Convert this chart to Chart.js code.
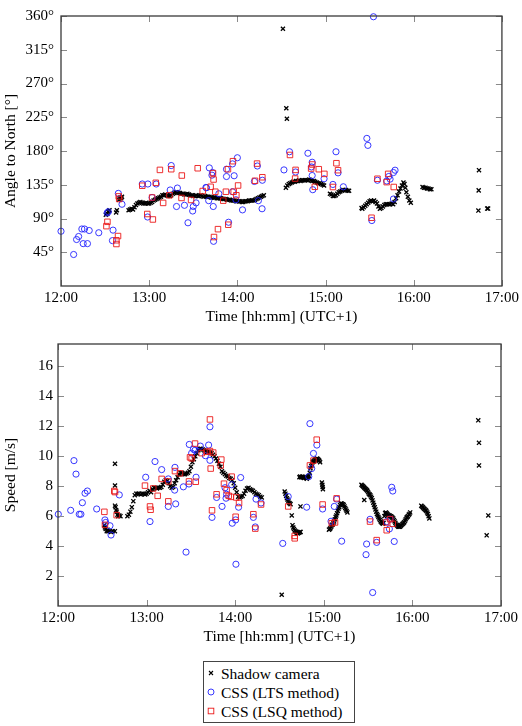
<!DOCTYPE html>
<html>
<head>
<meta charset="utf-8">
<script src="https://cdn.jsdelivr.net/npm/chart.js@4.4.1/dist/chart.umd.min.js"></script>
<style>
html,body{margin:0;padding:0;background:#fff;}
body{width:522px;height:726px;position:relative;overflow:hidden;font-family:"Liberation Serif",serif;}
#c1{position:absolute;left:0;top:0;}
#c2{position:absolute;left:0;top:330px;}
#legend{position:absolute;left:203px;top:661px;width:152px;height:62px;border:1px solid #444;box-sizing:border-box;background:#fff;}
.row{position:absolute;left:0;height:19px;line-height:19px;font-size:15.5px;color:#000;white-space:nowrap;}
.row svg{position:absolute;left:2px;top:4px;}
.row span{position:absolute;left:17px;top:0;}
</style>
</head>
<body>
<canvas id="c1" width="522" height="330"></canvas>
<canvas id="c2" width="522" height="322"></canvas>
<div id="legend"></div>
<script>
// ---------- axes ----------
const timeTickValues = [0, 60, 120, 180, 240, 300];          // minutes after 12:00
const timeTickLabels = ['12:00', '13:00', '14:00', '15:00', '16:00', '17:00'];
const angleTicks = [45, 90, 135, 180, 225, 270, 315, 360];
const speedTicks = [2, 4, 6, 8, 10, 12, 14, 16];
const seriesNames = ['Shadow camera', 'CSS (LTS method)', 'CSS (LSQ method)'];

// ---------- Angle to North: shadow camera (time in minutes after 12:00) ----------
const camDirPreT = [30.5,31,31.5,32,32.5,33,37.5,38,39.5,40,40.5,41,41.5];
const camDirPreA = [95,97,96,99,100,101,98,101,115,117,118,117,119];
const camDirBT = [46,47,48,49,50,51,52,53,54,55,56,57,58,59,60,61,62,63,64,65,66,67,68,69,70,71,72,73,74,75,76,77,78,79,80,81,82,83,84,85,86,87,88,89,90,91,92,93,94,95,96,97,98,99,100,101,102,103,104,105,106,107,108,109,110,111,112,113,114,115,116,117,118,119,120,121,122,123,124,125,126,127,128,129,130,131,132,133,134,135,136,137,138];
const camDirBA = [101,102,103,102,105,108,110,111,112,111,110,110,111,110,110,111,112,114,115,116,117,118,119,121,121,122,121,120,120,121,123,124,125,125,124,124,123,123,122,122,123,122,121,121,120,120,121,120,120,121,120,119,120,119,119,119,118,118,118,118,117,117,117,117,116,116,116,115,115,115,114,114,114,113,113,113,113,112,112,113,113,113,114,114,114,114,115,116,117,118,119,120,121];
const camDirCT = [153,154,155,156,157,158,159,160,161,162,163,164,165,166,167,168,169,170,171,172,173,174,175,176,177,178,179];
const camDirCA = [131,134,136,137,138,139,139,140,140,141,140,141,141,141,141,141,142,141,140,140,139,138,137,137,136,135,134];
const camDirDT = [183,184,185,186,187,188,189,190,191,192,193,194,195,196];
const camDirDA = [123,122,120,120,121,123,125,126,127,128,128,128,127,127];
const camDirET = [204.5,205,206,207,208,209,210,211,212,213,214,215,216,217,218,219,220,221,222,223,224,225,226,227,228,229,230,231,232,233,233.7,234.3,235,236,237,238];
const camDirEA = [104,103,105,107,109,111,113,114,113,114,112,110,106,103,104,106,108,109,109,109,109,110,109,112,117,121,126,130,134,138,136,131,125,119,114,111];
const camDirFT = [246,247,248,249,250,251,252];
const camDirFA = [132,131,131,130,130,129,129];
const camDirOutT = [151,153.3,153.7,284,284.2,284.4,290,290.6];
const camDirOutA = [343,237,223,100.6,127.5,154.4,103.2,103.2];

// ---------- Angle to North: CSS LTS ----------
const ltsDirT = [0,8.6,10.6,12,14.2,16,15.1,18,19.2,25.7,35,35.4,31.4,32.2,39,41.5,55.3,59.1,58.9,62,64.8,74.3,75,78.6,79.2,84,86.4,89.6,90,91.9,98.6,99,100.5,100.9,102.7,103.1,103.6,103.8,107.4,112.6,112.6,114,116.7,116.7,117.8,119,120,123.5,131.6,133.6,134.3,136.8,137,151.7,155.5,159.6,168,170.4,170.9,170.9,171.3,179,185,187.1,188.5,192.1,208.1,208.8,211.5,212.6,215.3,221.6,223,223.9,226.2,226.2,227.3];
const ltsDirA = [73,42,62,66,76,76,56.5,56.5,74,71,60.5,74.5,97.5,99,123.5,109,136,136,92,118,136,128,160.6,106,130.6,107.6,84.3,100,106,110.8,131.4,131,113.8,157.5,147.8,151.3,106,59.6,123,146,155.7,85,162.8,125.7,147,115,171,101.5,139.4,160,113.8,103,141,154.8,179,152,177,158.8,165,147.3,128.4,143,135.4,179,150.9,132.3,196.8,187.5,87.3,359,141,140,146,142.5,151.3,116,154.4];

// ---------- Angle to North: CSS LSQ ----------
const lsqDirT = [30.9,31.6,37.7,38.8,37.7,39.3,39.6,55.3,58.7,62,62.5,64.5,67.3,69.5,75,73.8,82.2,82,88.5,93,96.4,101.8,103.4,103.8,104.1,106.8,105,110.4,112.2,113.6,113.8,117,117.5,120.5,119.3,132,133.4,137,155.8,159.6,159.3,170.2,171,172.7,175.4,179.2,185,187.4,188.5,211.3,215.3,221.6,222.6,226.4];
const lsqDirA = [79.8,85.6,61,66.6,56,119.5,116,133.7,96,118,88.7,137.6,154.8,110.8,155.7,121,147.3,117.4,114.7,157,126.6,132.3,150.5,142,65.3,75.8,125.7,113.8,125.7,155.7,81.7,166.4,125.7,134,121,140.3,163.2,145,174.7,154.8,143.3,156.6,162,132.3,155.7,149.5,132,163.7,154.4,91,143,138.5,149.5,132];

// ---------- Speed: shadow camera ----------
const camSpdPreT = [31.4,31.8,32.3,33,33.5,34,35,36,37,38.5,38.6,38.6,38.6,39,39.4,39.8,40.3,40.8,41.5,42.3];
const camSpdPreV = [5.4,5.25,5.15,5,5.1,5,5,4.95,5,5,9.5,8.05,6.7,6.6,6.4,6.3,6.1,6,6.05,6];
const camSpdBT = [47,48,49,50,51,52,53,54,55,56,57,58,59,60,61,62,63,64,65,66,67,68,69,70,71,72,73,74,75,76,77,78,79,80,81,82,83,84,85,86,87,88,89,90,91,92,93,94,95,96,97,98,99,100,101,102,103,104,105,106,107,108,109,110,111,112,113,114,115,116,117,118,119,120,121,122,123,124,125,126,127,128,129,130,131,132,133,134,135,136,137,138];
const camSpdBV = [6,6.1,6.3,6.6,7,7.4,7.5,7.5,7.5,7.45,7.5,7.5,7.45,7.5,7.6,7.7,7.6,7.8,7.9,7.9,7.85,7.9,7.9,7.95,8.1,8.3,8.4,8.35,8.2,8,7.9,7.95,8.2,8.4,8.6,8.8,8.9,8.9,8.8,8.8,8.85,8.9,9,9.3,9.6,9.8,10,10.2,10.4,10.5,10.5,10.45,10.4,10.35,10.3,10.3,10.25,10.2,10.1,10,9.85,9.7,9.5,9.3,9,8.9,8.8,8.7,8.65,8.55,8.5,8.4,8.2,7.9,7.6,7.3,7.25,7.3,7.35,7.5,7.7,7.85,7.9,7.8,7.75,7.7,7.6,7.5,7.45,7.4,7.3,7.25];
const camSpdCT = [153.5,154,154.5,155,155.5,156,156.5,157,157.5,158.8,159.3,159.8,160.3,160.8,161.3,161.8,162.3,162.8,163.3,163.8,164.3];
const camSpdCV = [7.65,7.5,7.35,7.2,7.1,7,6.9,6.85,6.8,5.4,5.25,5.15,5.05,5,4.95,4.9,4.85,4.9,4.9,4.95,4.95];
const camSpdDT = [163.5,164,164.5,165,165.5,166,166.5,167,167.5,168,168.5,169,169.5,170,170.5,171,171.5,172,172.5,173,173.5,174,174.5,175,175.5,176,176.5,177,177.5,178.7,179,179.2,179.4];
const camSpdDV = [8.6,8.65,8.6,8.6,8.65,8.6,8.55,8.6,8.6,8.55,8.5,8.6,8.65,8.7,8.9,9.2,9.35,9.45,9.6,9.65,9.7,9.75,9.8,9.8,9.85,9.8,9.75,9.7,9.6,8.25,8.1,7.95,7.8];
const camSpdET = [183.5,184,184.5,185,185.5,186,186.5,187,187.5,188,188.5,189,189.5,190,190.5,191,191.5,192,192.5,193,193.5,194,194.5,195,195.5,196];
const camSpdEV = [5.1,5.15,5.2,5.3,5.4,5.45,5.55,5.65,5.8,5.95,6.05,6.2,6.35,6.5,6.6,6.75,6.85,6.85,6.8,6.8,6.75,6.65,6.55,6.45,6.35,6.25];
const camSpdFT = [205.5,206,206.5,207,207.5,208,208.5,209,209.5,210,210.5,211,211.5,212,212.5,213,213.5,214,214.5,215,215.5,216,216.5,217,217.5,218,218.5,219,219.5,220,220.5,221,221.5,222,222.5,223,223.5,224,224.5,225,225.5,226,226.5,227,227.5,228,228.5,229,229.5,230,230.5,231,231.5,232,232.5,233,233.5,234,234.5,235,235.5,236,236.5,237,237.5,238,238.5];
const camSpdFV = [8.1,8.05,8,7.95,7.9,7.85,7.8,7.75,7.7,7.6,7.5,7.45,7.4,7.3,7.2,7.05,6.9,6.75,6.6,6.45,6.3,6.15,6.05,5.95,5.85,5.75,5.65,5.6,5.55,5.5,5.55,6,6.2,6.25,6.2,6.15,6.1,6.05,6.05,6,6,5.95,5.9,5.85,5.75,5.65,5.55,5.45,5.4,5.35,5.3,5.3,5.3,5.35,5.4,5.45,5.5,5.55,5.6,5.7,5.8,5.9,5.95,6,6.1,6.15,6.25];
const camSpdGT = [246,246.5,247,247.5,248,248.5,249,249.5,250,250.5,251,251.5];
const camSpdGV = [6.7,6.65,6.6,6.55,6.5,6.45,6.4,6.35,6.25,6.15,6,5.85];
const camSpdOutT = [151.5,158.3,164.2,207.4,284.6,285.1,285.1,291.4,290.3];
const camSpdOutV = [0.75,6.05,6.65,7.08,12.4,10.9,9.39,6.05,4.72];

// ---------- Speed: CSS LTS ----------
const ltsSpdT = [0.2,8.6,10.8,12.2,14.4,15.5,16.5,18.3,19.9,26.2,31.8,32.3,35.2,35.9,41.5,59.4,62.3,65.7,70.2,74.7,74.7,79,79.2,79.7,84.9,86.7,88.7,88.9,90.5,91.7,92.8,93.5,96.4,99.8,102,102.9,102.9,104.3,107.4,111.1,113.1,113.8,114.2,117.6,118,120.3,120.5,122.3,123.7,132.3,133.6,134.1,137.5,152.2,155.9,168.4,169.8,170.6,171.8,173,175.3,179.2,184.9,187.1,188.7,192.1,208.6,209,211.3,213.1,215.8,222.6,224.4,224.9,226,226.7,227.7];
const ltsSpdV = [6.13,6.39,9.71,8.81,6.13,6.13,6.9,7.53,7.68,6.48,5.75,5.58,5.36,4.74,7.42,8.6,5.64,9.65,9.11,6.65,8.49,7.74,9.26,6.82,7.96,3.6,8.15,10.79,10.21,10.47,10.4,8.6,10.68,10.04,10.75,11.97,9.73,5.92,7.25,6.65,7.9,7.2,7.46,8.1,5.53,5.75,2.79,6.6,8.58,5.92,5.28,7.14,6.88,4.18,7.31,6.6,8.64,12.18,9.18,10.19,10.75,6.48,5.66,6.65,7.14,4.33,3.43,4.14,5.79,0.9,4.25,5.64,5.15,5.8,7.93,7.68,4.31];

// ---------- Speed: CSS LSQ ----------
const lsqSpdT = [31.4,31.8,38.1,38.6,39.7,58.9,62.3,62.7,64.5,67.5,70.2,74.7,74.7,79.2,82.6,88.7,89.4,90.5,92.8,93.3,97.3,100.6,102.9,105.1,102.9,103.4,104.3,107.4,110.2,110.6,112.4,114.2,115.6,117.1,117.6,120.3,120.7,122.6,132.3,133.6,137.5,155.9,160.3,160.3,170.6,173,175.2,179.2,185.4,187.6,188.7,211.3,215.8,222.2,222.6,226.7,224.9];
const lsqSpdV = [6.29,5.42,7.68,7.61,6.07,8.04,6.65,6.43,7.85,7.36,8.49,8.32,6.99,9.01,8.86,8.32,9.93,9.86,10.85,8.3,10.21,10.3,10.35,10.25,12.46,9.18,6.39,7.46,9.39,9.78,8.17,7.74,7.36,7.29,8.64,5.96,7.25,6.88,6.13,5.17,6.78,6.65,4.52,4.68,9.39,9.71,11.11,6.78,5.53,5.58,7.19,5.64,4.4,5.58,5.06,5.49,5.8];

// ---------- helpers ----------
function pts(ts, vs) { return ts.map((t, i) => ({ x: t, y: vs[i] })); }
const FONT = '"Liberation Serif", "Times New Roman", serif';
const COL_CAM = '#000000', COL_LTS = 'rgb(35,35,255)', COL_LSQ = 'rgb(235,25,25)';

function camSet(data) {
  return { label: seriesNames[0], data, pointStyle: 'crossRot', pointRadius: 2.9, pointBorderWidth: 1.3,
           borderColor: COL_CAM, backgroundColor: COL_CAM, showLine: false, clip: false, order: 3 };
}
function ltsSet(data) {
  return { label: seriesNames[1], data, pointStyle: 'circle', pointRadius: 3.1, pointBorderWidth: 0.9,
           borderColor: COL_LTS, backgroundColor: 'rgba(0,0,0,0)', showLine: false, clip: false, order: 2 };
}
function lsqSet(data) {
  return { label: seriesNames[2], data, pointStyle: 'rect', pointRadius: 3.9, pointBorderWidth: 0.9,
           borderColor: COL_LSQ, backgroundColor: 'rgba(0,0,0,0)', showLine: false, clip: false, order: 1 };
}

const framePlugin = {
  id: 'frame',
  afterDatasetsDraw(chart) {
    const { ctx, chartArea: a, scales } = chart;
    ctx.save();
    ctx.strokeStyle = '#8a8a8a';
    ctx.lineWidth = 1;
    const L = 6;
    scales.x.ticks.forEach(t => {
      const px = Math.round(scales.x.getPixelForValue(t.value)) + 0.5;
      ctx.beginPath();
      ctx.moveTo(px, a.bottom); ctx.lineTo(px, a.bottom - L);
      ctx.moveTo(px, a.top); ctx.lineTo(px, a.top + L);
      ctx.stroke();
    });
    scales.y.ticks.forEach(t => {
      const py = Math.round(scales.y.getPixelForValue(t.value)) + 0.5;
      ctx.beginPath();
      ctx.moveTo(a.left, py); ctx.lineTo(a.left + L, py);
      ctx.moveTo(a.right, py); ctx.lineTo(a.right - L, py);
      ctx.stroke();
    });
    ctx.strokeStyle = '#3a3a3a';
    ctx.lineWidth = 1.3;
    ctx.strokeRect(a.left, a.top, a.right - a.left, a.bottom - a.top);
    ctx.restore();
  }
};

function makeChart(canvasId, datasets, yOpts, geom) {
  return new Chart(document.getElementById(canvasId), {
    type: 'scatter',
    data: { datasets },
    plugins: [framePlugin],
    options: {
      responsive: false,
      animation: false,
      events: [],
      layout: { padding: { left: 0, right: geom.right, top: geom.top, bottom: 0 } },
      plugins: { legend: { display: false }, tooltip: { enabled: false } },
      scales: {
        x: {
          type: 'linear', min: 0, max: 300,
          afterBuildTicks: s => { s.ticks = timeTickValues.map(v => ({ value: v })); },
          afterFit: s => { s.height = geom.xh; },
          ticks: { padding: 3, color: '#000', font: { family: FONT, size: 15 },
                   maxRotation: 0, autoSkip: false,
                   callback: v => timeTickLabels[timeTickValues.indexOf(v)] },
          grid: { display: false, drawTicks: false },
          border: { display: false },
          title: { display: true, text: 'Time [hh:mm] (UTC+1)', color: '#000',
                   font: { family: FONT, size: 15.5 }, padding: { top: 0, bottom: geom.tpb } }
        },
        y: {
          type: 'linear', min: yOpts.min, max: yOpts.max,
          afterBuildTicks: s => { s.ticks = yOpts.ticks.map(v => ({ value: v })); },
          afterFit: s => { s.width = geom.yw; },
          ticks: { padding: geom.ypad, color: '#000', font: { family: FONT, size: 15 },
                   autoSkip: false, callback: yOpts.fmt },
          grid: { display: false, drawTicks: false },
          border: { display: false },
          title: { display: true, text: yOpts.title, color: '#000',
                   font: { family: FONT, size: 15.5 }, padding: { top: 1.5, bottom: 0 } }
        }
      }
    }
  });
}

const camDir = [].concat(
  pts(camDirPreT, camDirPreA), pts(camDirBT, camDirBA), pts(camDirCT, camDirCA),
  pts(camDirDT, camDirDA), pts(camDirET, camDirEA), pts(camDirFT, camDirFA), pts(camDirOutT, camDirOutA));
const camSpd = [].concat(
  pts(camSpdPreT, camSpdPreV), pts(camSpdBT, camSpdBV), pts(camSpdCT, camSpdCV),
  pts(camSpdDT, camSpdDV), pts(camSpdET, camSpdEV), pts(camSpdFT, camSpdFV),
  pts(camSpdGT, camSpdGV), pts(camSpdOutT, camSpdOutV));

makeChart('c1',
  [camSet(camDir), ltsSet(pts(ltsDirT, ltsDirA)), lsqSet(pts(lsqDirT, lsqDirA))],
  { min: 0, max: 360, ticks: angleTicks, fmt: v => v + '°', title: 'Angle to North [°]' },
  { right: 18, top: 14, xh: 44, tpb: 3.6, yw: 61, ypad: 7 });

makeChart('c2',
  [camSet(camSpd), ltsSet(pts(ltsSpdT, ltsSpdV)), lsqSet(pts(lsqSpdT, lsqSpdV))],
  { min: 0, max: 17.5, ticks: speedTicks, fmt: v => String(v), title: 'Speed [m/s]' },
  { right: 21, top: 4, xh: 46, tpb: 5.6, yw: 58, ypad: 5 });

// ---------- legend ----------
const markers = [
  '<svg width="10" height="10"><path d="M3 3L7 7M3 7L7 3" stroke="#000" stroke-width="1.1"/></svg>',
  '<svg width="10" height="10"><circle cx="5" cy="5" r="3" fill="none" stroke="' + COL_LTS + '" stroke-width="0.9"/></svg>',
  '<svg width="10" height="10"><rect x="2.2" y="2.2" width="5.6" height="5.6" fill="none" stroke="' + COL_LSQ + '" stroke-width="0.9"/></svg>'
];
const lg = document.getElementById('legend');
seriesNames.forEach((name, i) => {
  const r = document.createElement('div');
  r.className = 'row';
  r.style.top = (1.5 + i * 19) + 'px';
  r.innerHTML = markers[i] + '<span>' + name + '</span>';
  lg.appendChild(r);
});
</script>
</body>
</html>
